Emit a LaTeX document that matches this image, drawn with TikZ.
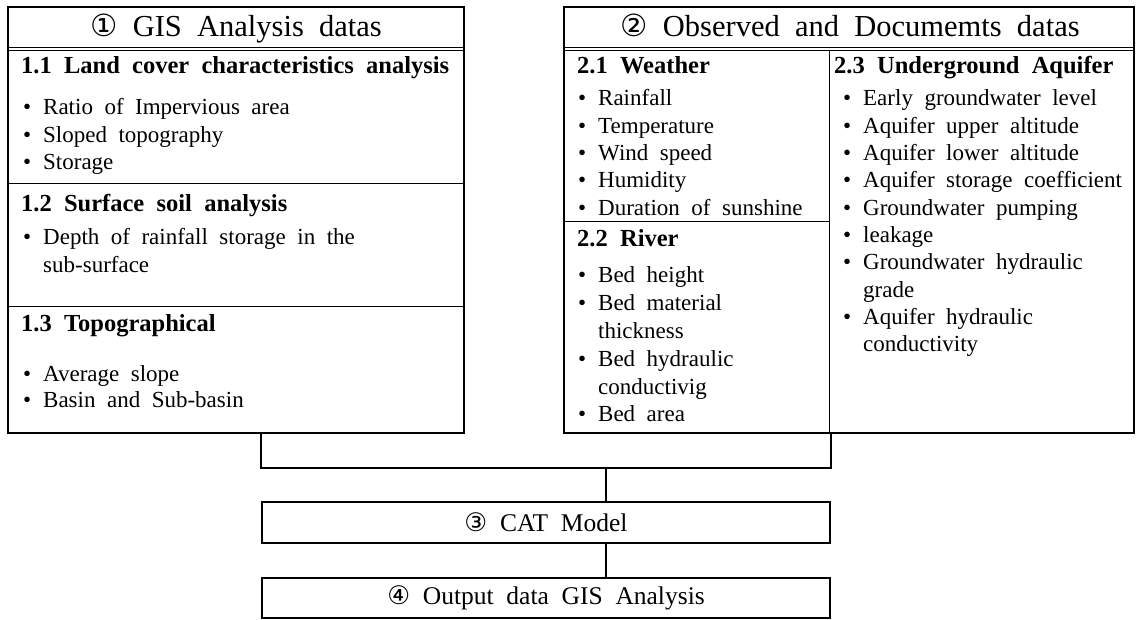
\documentclass[tikz,border=0pt]{standalone}
\usepackage{fontspec}
\setmainfont{Liberation Serif}[WordSpace=2]
\newfontfamily\circfont{DejaVu Sans}
\usetikzlibrary{positioning, calc}

\newcommand{\itm}{\makebox[20pt][l]{\textbullet}}
\newcommand{\ind}{\hspace*{20pt}}

\begin{document}
\begin{tikzpicture}[x=1pt, y=-1pt,
    frame/.style={draw=black, line width=2.4pt, rectangle, inner sep=0pt},
    sep/.style={draw=black, line width=1pt},
    link/.style={draw=black, line width=2.4pt},
    title/.style={anchor=base, inner sep=0pt, font=\fontsize{30.5}{34}\selectfont},
    head/.style={anchor=base west, inner sep=0pt, font=\bfseries\fontsize{24.5}{28}\selectfont},
    items/.style={anchor=base west, inner sep=0pt, text width=430pt, align=left,
      font=\fontsize{23}{27.3}\selectfont, execute at begin node={\spaceskip=0.5em\relax}},
  ]
      \useasboundingbox (0,0) rectangle (1136,620);

      \node[frame, minimum width=456pt, minimum height=426pt] (gis) at (236,220) {};
      \node[frame, minimum width=570pt, minimum height=426pt] (obs) at (849,220) {};
      \node[frame, minimum width=568pt, minimum height=41pt, font=\fontsize{25.5}{28}\selectfont] (cat) at (546,522.5) {{\circfont ③} CAT Model};
      \node[frame, minimum width=568pt, minimum height=40pt, font=\fontsize{25.5}{28}\selectfont] (out) at (546,598) {{\circfont ④} Output data GIS Analysis};

      % left block
      \draw[sep] (gis.west |- 0,48) -- (gis.east |- 0,48);
      \draw[sep] (gis.west |- 0,51) -- (gis.east |- 0,51);
      \draw[sep] (gis.west |- 0,184) -- (gis.east |- 0,184);
      \draw[sep] (gis.west |- 0,307) -- (gis.east |- 0,307);

      \node[title] (gistitle) at (236,37) {{\circfont ①} GIS Analysis datas};
      \node[head] (land) at (21,74) {1.1 Land cover characteristics analysis};
      \node[items] (landlist) at (23,115) {\itm Ratio of Impervious area\\ \itm Sloped topography\\ \itm Storage};
      \node[head] (soil) at (21,212) {1.2 Surface soil analysis};
      \node[items] (soillist) at (23,245) {\itm Depth of rainfall storage in the\\ \ind sub-surface};
      \node[head] (topo) at (21,332) {1.3 Topographical};
      \node[items, font=\fontsize{23}{26}\selectfont] (topolist) at (23,382) {\itm Average slope\\ \itm Basin and Sub-basin};

      % right block
      \coordinate (div) at (829,51);
      \draw[sep] (obs.west |- 0,48) -- (obs.east |- 0,48);
      \draw[sep] (obs.west |- div) -- (obs.east |- div);
      \draw[sep] (div) -- (div |- obs.south);
      \draw[sep] (obs.west |- 0,222) -- (div |- 0,222);

      \node[title] (obstitle) at (850,37) {{\circfont ②} Observed and Documemts datas};
      \node[head] (weather) at (577,74) {2.1 Weather};
      \node[items] (weatherlist) at (578,106) {\itm Rainfall\\ \itm Temperature\\ \itm Wind speed\\ \itm Humidity\\ \itm Duration of sunshine};
      \node[head] (river) at (577,247) {2.2 River};
      \node[items, font=\fontsize{23}{27.8}\selectfont] (riverlist) at (578,283) {\itm Bed height\\ \itm Bed material\\ \ind thickness\\ \itm Bed hydraulic\\ \ind conductivig\\ \itm Bed area};
      \node[head] (aquifer) at (834,74) {2.3 Underground Aquifer};
      \node[items] (aquiferlist) at (843,106) {\itm Early groundwater level\\ \itm Aquifer upper altitude\\ \itm Aquifer lower altitude\\ \itm Aquifer storage coefficient\\ \itm Groundwater pumping\\ \itm leakage\\ \itm Groundwater hydraulic\\ \ind grade\\ \itm Aquifer hydraulic\\ \ind conductivity};

      % connectors
      \coordinate (hub) at (606,468);
      \draw[link] (cat.west |- gis.south) -- (cat.west |- hub) -- (cat.east |- hub) -- (cat.east |- obs.south);
      \draw[link] (hub) -- (hub |- cat.north);
      \draw[link] (hub |- cat.south) -- (hub |- out.north);

    \end{tikzpicture}
\end{document}
